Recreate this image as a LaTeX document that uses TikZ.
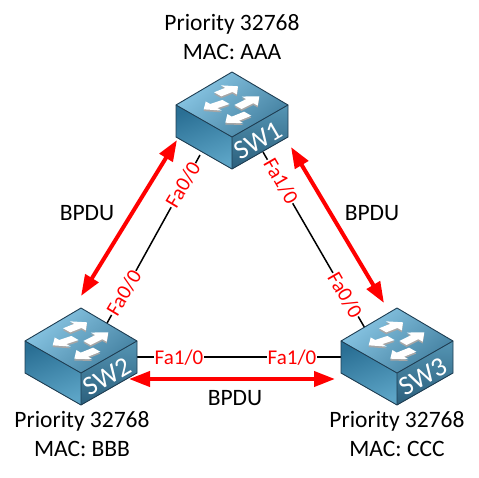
\documentclass[tikz,border=0pt]{standalone}
\usepackage{fontspec}
\setmainfont{Carlito}
\usetikzlibrary{arrows.meta}
\definecolor{edgeblue}{HTML}{1E3D52}
\definecolor{topL}{HTML}{8BC8E6}
\definecolor{topD}{HTML}{427F9F}
\definecolor{leftL}{HTML}{5CA4C6}
\definecolor{leftD}{HTML}{2A6F94}
\definecolor{rightL}{HTML}{5595B4}
\definecolor{rightD}{HTML}{2B5F7C}
\newcommand{\iconarrow}[4]{%
  \pgfmathsetmacro{\adx}{#3-(#1)}\pgfmathsetmacro{\ady}{(#2)-(#4)}%
  \begin{scope}[shift={(#1,#2)},x={(\adx pt,\ady pt)},y={(1pt,-0.57pt)}]
    \fill[gray!70,yshift=-1.8pt] (0,-3.6)--(.55,-3.6)--(.55,-8)--(1,0)--(.55,8)--(.55,3.6)--(0,3.6)--cycle;
    \fill[white] (0,-3.6)--(.55,-3.6)--(.55,-8)--(1,0)--(.55,8)--(.55,3.6)--(0,3.6)--cycle;
  \end{scope}}
\tikzset{
  x=1pt,y=-1pt,
  txt/.style={font=\fontsize{23.5}{25}\selectfont,text=black,inner sep=0pt},
  port/.style={font=\fontsize{21}{23}\selectfont,text=red,fill=white,inner sep=.8pt},
  swname/.style={font=\fontsize{27}{29}\selectfont,text=white,rotate=30,inner sep=0pt},
  cable/.style={black,line width=1.5pt},
  bpdu/.style={red,line width=4pt,{Triangle[length=21pt,width=15pt]}-{Triangle[length=21pt,width=15pt]}},
  switchicon/.pic={
    \shade[left color=topL,right color=topD,shading angle=40] (0,0)--(56,33)--(0,65)--(-56,33)--cycle;
    \shade[left color=leftD,right color=leftL,shading angle=20] (-56,33)--(0,65)--(0,97)--(-56,65)--cycle;
    \shade[top color=rightL,bottom color=rightD] (0,65)--(56,33)--(56,65)--(0,97)--cycle;
    \draw[edgeblue,line width=.9pt,line join=round] (0,0)--(56,33)--(56,65)--(0,97)--(-56,65)--(-56,33)--cycle;
    \draw[edgeblue,line width=.9pt,line join=round] (-56,33)--(0,65)--(56,33) (0,65)--(0,97);
    \iconarrow{-14.3}{22.3}{6}{14.3}
    \iconarrow{-6}{30}{-28.3}{37.3}
    \iconarrow{6}{35}{27.3}{24.3}
    \iconarrow{15.7}{41.7}{-6.7}{50.7}
  }
}
\begin{document}
\begin{tikzpicture}
\useasboundingbox (0,0) rectangle (479,477);
% ports
\coordinate (p1l) at (200,155);
\coordinate (p1r) at (263,152);
\coordinate (p2t) at (106,325);
\coordinate (p2r) at (137,357);
\coordinate (p3t) at (366,330);
\coordinate (p3l) at (341,357);
% cables
\draw[cable] (p1l) -- (p2t);
\draw[cable] (p1r) -- (p3t);
\draw[cable] (p2r) -- (p3l);
% switches
\pic at (232,72) {switchicon};
\pic at (81,308) {switchicon};
\pic at (397,308) {switchicon};
\node[swname] (sw1) at (258,141) {SW1};
\node[swname] (sw2) at (107,377) {SW2};
\node[swname] (sw3) at (423,377) {SW3};
% port labels
\node[port,rotate=59] (l1) at (183,185) {Fa0/0};
\node[port,rotate=59] (l2) at (124,293) {Fa0/0};
\node[port,rotate=-60] (l3) at (281,181) {Fa1/0};
\node[port,rotate=-60] (l4) at (345,295) {Fa0/0};
\node[port] (l5) at (179,358) {Fa1/0};
\node[port] (l6) at (292,358) {Fa1/0};
% BPDU arrows
\coordinate (a1) at (177,140);
\coordinate (a2) at (81,296);
\coordinate (b1) at (291,147);
\coordinate (b2) at (384,303);
\coordinate (c1) at (129,379);
\coordinate (c2) at (335,379);
\draw[bpdu] (a1) -- (a2);
\draw[bpdu] (b1) -- (b2);
\draw[bpdu] (c1) -- (c2);
% texts
\node[txt] (t1) at (232,24) {Priority 32768};
\node[txt] (t2) at (232,52) {MAC: AAA};
\node[txt] (t3) at (82,421) {Priority 32768};
\node[txt] (t4) at (82,449) {MAC: BBB};
\node[txt] (t5) at (397,421) {Priority 32768};
\node[txt] (t6) at (397,449) {MAC: CCC};
\node[txt] (b1t) at (87,213) {BPDU};
\node[txt] (b2t) at (372,213) {BPDU};
\node[txt] (b3t) at (235,398) {BPDU};
\end{tikzpicture}
\end{document}
